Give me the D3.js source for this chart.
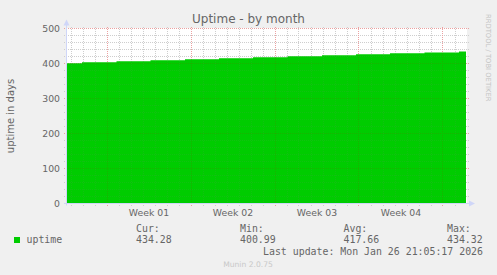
<!DOCTYPE html>
<html>
<head>
<meta charset="utf-8">
<script src="https://cdn.jsdelivr.net/npm/d3@7"></script>
<style>
    body { margin: 0; background: #f0f0f0; }
    svg { display: block; }
    text { fill: #666; font-family: "DejaVu Sans", sans-serif; }
    .mono { font-family: "DejaVu Sans Mono", monospace; font-size: 9.9px; }
</style>
</head>
<body>
<svg id="chart" width="497" height="275"></svg>
<script>
(function () {
    "use strict";

    // uptime samples (start of each consolidated step) and value in days
    const sampleTimes = [
        "2025-12-25T16:00", "2025-12-26T22:00", "2025-12-29T19:00", "2026-01-01T15:00",
        "2026-01-04T12:00", "2026-01-07T08:00", "2026-01-10T04:00", "2026-01-13T01:00",
        "2026-01-15T22:00", "2026-01-18T18:00", "2026-01-21T14:00", "2026-01-24T11:00",
        "2026-01-27T08:00", "2026-01-27T22:00"
    ];
    const uptimeDays = [
        400.99, 403.80, 406.60, 409.40,
        412.20, 415.00, 417.80, 420.60,
        423.40, 426.20, 429.00, 431.75,
        434.32, 434.28
    ];

    const yTicks = [0, 100, 200, 300, 400, 500];
    const weekStarts = ["2025-12-29", "2026-01-05", "2026-01-12", "2026-01-19", "2026-01-26"];
    const weekLabels = ["Week 01", "Week 02", "Week 03", "Week 04"];

    const legendHeads = ["Cur:", "Min:", "Avg:", "Max:"];
    const legendValues = ["434.28", "400.99", "417.66", "434.32"];

    const parseT = d3.utcParse("%Y-%m-%dT%H:%M");
    const parseD = d3.utcParse("%Y-%m-%d");
    const data = sampleTimes.map((t, i) => ({ t: parseT(t), v: uptimeDays[i] }));
    const weeks = weekStarts.map(parseD);

    const START = parseT("2025-12-25T16:00");
    const END = parseT("2026-01-28T00:00");

    const left = 67, right = 467, top = 28.5, bottom = 203.5;

    const x = d3.scaleUtc().domain([START, END]).range([left, right]);
    const y = d3.scaleLinear().domain([0, 500]).range([bottom, top]);

    const svg = d3.select("#chart");
    const snap = (v) => Math.floor(v) + 0.5;

    // canvas
    svg.append("rect")
        .attr("x", left).attr("y", top - 0.5)
        .attr("width", right - left).attr("height", bottom - top + 0.5)
        .attr("fill", "#ffffff");

    const weekSet = new Set(weeks.map((d) => +d));
    const days = d3.utcDay.range(START, END).filter((d) => !weekSet.has(+d));
    const majorY = new Set(yTicks);
    const minorRows = y.ticks(25).filter((v) => !majorY.has(v));

    // grid: dotted, day / 20-day minor lines in grey, weeks / hundreds in red
    function drawGrid(g, gray, red) {
        g.attr("stroke-dasharray", "1,1").attr("shape-rendering", "crispEdges");
        g.selectAll(".vminor")
            .data(days)
            .enter().append("line")
            .attr("x1", (d) => snap(x(d))).attr("x2", (d) => snap(x(d)))
            .attr("y1", top - 2).attr("y2", bottom + 2)
            .attr("stroke", gray);
        g.selectAll(".hminor")
            .data(minorRows)
            .enter().append("line")
            .attr("x1", left - 3).attr("x2", right + 2)
            .attr("y1", (d) => snap(y(d))).attr("y2", (d) => snap(y(d)))
            .attr("stroke", gray);
        g.selectAll(".vmajor")
            .data(weeks)
            .enter().append("line")
            .attr("x1", (d) => snap(x(d))).attr("x2", (d) => snap(x(d)))
            .attr("y1", top - 2).attr("y2", bottom + 2)
            .attr("stroke", red);
        g.selectAll(".hmajor")
            .data(yTicks.filter((v) => v > 0))
            .enter().append("line")
            .attr("x1", left - 3).attr("x2", right + 2)
            .attr("y1", (d) => snap(y(d))).attr("y2", (d) => snap(y(d)))
            .attr("stroke", red);
    }

    drawGrid(svg.append("g"), "#dadada", "#efb9b9");

    // area
    const area = d3.area()
        .curve(d3.curveStepAfter)
        .x((d) => x(d.t))
        .y0(y(0))
        .y1((d) => y(d.v));
    svg.append("path")
        .datum(data)
        .attr("d", area)
        .attr("fill", "#00cc00");

    // faint grid showing through the area
    drawGrid(svg.append("g").attr("opacity", 0.12), "#808080", "#d00000");

    // axes
    const axisColor = "#cfd6f8";
    svg.append("line")
        .attr("x1", left - 0.5).attr("x2", left - 0.5)
        .attr("y1", bottom + 2).attr("y2", top - 5)
        .attr("stroke", axisColor);
    svg.append("line")
        .attr("x1", left - 3).attr("x2", right + 3)
        .attr("y1", bottom).attr("y2", bottom)
        .attr("stroke", axisColor);
    svg.append("path")
        .attr("d", `M${left - 3.5},${top - 3} L${left - 0.5},${top - 9} L${left + 2.5},${top - 3} Z`)
        .attr("fill", axisColor);
    svg.append("path")
        .attr("d", `M${right + 2},${bottom - 3} L${right + 8},${bottom} L${right + 2},${bottom + 3} Z`)
        .attr("fill", axisColor);

    // y tick labels
    svg.selectAll(".ylab")
        .data(yTicks)
        .enter().append("text")
        .attr("x", 60)
        .attr("y", (d) => y(d) + 3.4)
        .attr("text-anchor", "end")
        .attr("font-size", "9.3px")
        .text((d) => d);

    // week labels, centred on each week
    svg.selectAll(".xlab")
        .data(weekLabels)
        .enter().append("text")
        .attr("x", (d, i) => (x(weeks[i]) + x(weeks[i + 1])) / 2)
        .attr("y", 216)
        .attr("text-anchor", "middle")
        .attr("font-size", "9.3px")
        .text((d) => d);

    // title
    svg.append("text")
        .attr("x", 248.5).attr("y", 23)
        .attr("text-anchor", "middle")
        .attr("font-size", "12px")
        .text("Uptime - by month");

    // vertical label
    svg.append("text")
        .attr("transform", "translate(13.5,116) rotate(-90)")
        .attr("text-anchor", "middle")
        .attr("font-size", "10px")
        .text("uptime in days");

    // rrdtool credit
    svg.append("text")
        .attr("transform", "translate(485.5,14) rotate(90)")
        .attr("font-size", "6.8px")
        .style("fill", "#c4c4c4")
        .text("RRDTOOL / TOBI OETIKER");

    // legend
    svg.append("rect")
        .attr("x", 14).attr("y", 237)
        .attr("width", 6).attr("height", 6)
        .attr("fill", "#00cc00");
    svg.append("text").attr("class", "mono")
        .attr("x", 26.5).attr("y", 243)
        .text("uptime");

    const colX = [136, 240, 343.5, 447];
    svg.selectAll(".lhead")
        .data(legendHeads)
        .enter().append("text").attr("class", "mono")
        .attr("x", (d, i) => colX[i]).attr("y", 231.5)
        .text((d) => d);
    svg.selectAll(".lval")
        .data(legendValues)
        .enter().append("text").attr("class", "mono")
        .attr("x", (d, i) => colX[i]).attr("y", 243)
        .text((d) => d);

    svg.append("text").attr("class", "mono")
        .attr("x", 483).attr("y", 255)
        .attr("text-anchor", "end")
        .text("Last update: Mon Jan 26 21:05:17 2026");

    svg.append("text")
        .attr("x", 248).attr("y", 267)
        .attr("text-anchor", "middle")
        .attr("font-size", "7.6px")
        .style("fill", "#c8c8c8")
        .text("Munin 2.0.75");
})();
</script>
</body>
</html>
